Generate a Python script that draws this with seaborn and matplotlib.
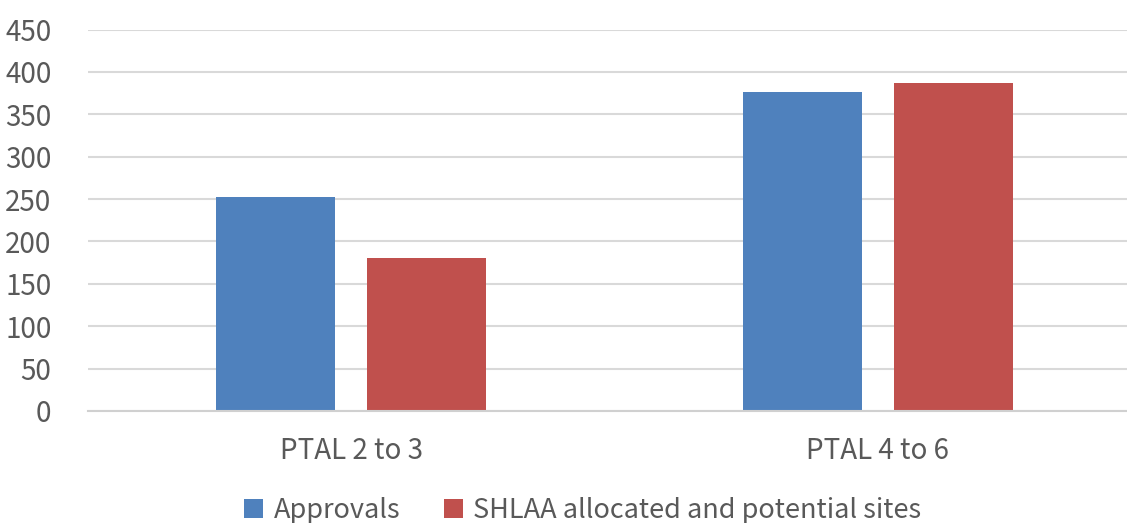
import matplotlib
matplotlib.use("Agg")
import pandas as pd
import seaborn as sns
from matplotlib import pyplot as plt
from matplotlib.patches import Patch

categories = ["PTAL 2 to 3", "PTAL 4 to 6"]
series = ["Approvals", "SHLAA allocated and potential sites"]
approvals = [253, 376]
shlaa = [181, 387]
yticks = [0, 50, 100, 150, 200, 250, 300, 350, 400, 450]

colors = ["#4F81BD", "#C0504D"]

df = pd.DataFrame({
    "category": categories * 2,
    "series": [series[0]] * 2 + [series[1]] * 2,
    "value": approvals + shlaa,
})

sns.set_style("white")
plt.rcParams["font.family"] = ["Noto Sans CJK KR", "DejaVu Sans"]

fig = plt.figure(figsize=(11.27, 5.23), dpi=100)
ax = fig.add_axes([87.5 / 1127, 112 / 523, 1054 / 1127, 381.5 / 523])

sns.barplot(
    data=df, x="category", y="value", hue="series",
    order=categories, hue_order=series, palette=colors, saturation=1,
    width=0.573, gap=0.218, legend=False, ax=ax,
    edgecolor="none", linewidth=0,
)

ax.set_xlim(-0.5, 1.5)
ax.set_ylim(0, 450)
ax.set_yticks(yticks)
ax.yaxis.grid(True, color="#d9d9d9", linewidth=1.5)
ax.set_axisbelow(True)
for s in ["top", "right", "left"]:
    ax.spines[s].set_visible(False)
ax.spines["bottom"].set_color("#d0d0d0")
ax.spines["bottom"].set_linewidth(1.5)
ax.tick_params(axis="both", length=0, labelsize=20, colors="#595959")
ax.tick_params(axis="y", pad=26)
ax.tick_params(axis="x", pad=18)
ax.set_xlabel("")
ax.set_ylabel("")

handles = [Patch(facecolor=c, edgecolor="none") for c in colors]
fig.legend(
    handles, series, loc="center", bbox_to_anchor=(0.517, 1 - 510 / 523),
    ncol=2, frameon=False, fontsize=19.5, labelcolor="#595959",
    handlelength=0.7, handleheight=0.7, handletextpad=0.4, columnspacing=1.6,
)

fig.savefig("out.png", dpi=100)
plt.close(fig)
